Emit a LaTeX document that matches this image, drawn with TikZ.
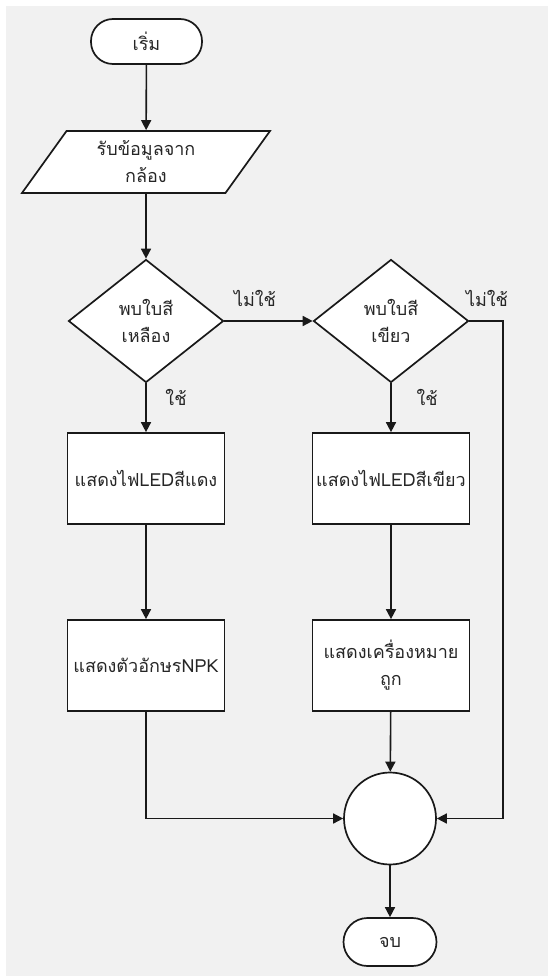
\documentclass[tikz,border=0pt]{standalone}
\usepackage{fontspec}
\newfontfamily\thaifont[Script=Thai]{Loma}
\usetikzlibrary{shapes.geometric,arrows.meta}

\begin{document}
\begin{tikzpicture}[
    x=1pt,
    y=-1pt,
    base/.style={draw=black!90, line width=1.7pt, fill=white, inner sep=2pt,
        text=black!85, align=center, font=\thaifont\fontsize{18}{27}\selectfont},
    terminal/.style={base, rectangle, rounded corners=22pt,
        minimum width=111pt, minimum height=45pt},
    inout/.style={base, trapezium, trapezium left angle=46, trapezium right angle=134,
        trapezium stretches body, minimum width=248pt, minimum height=62pt},
    decision/.style={base, diamond, inner sep=0pt,
        minimum width=155pt, minimum height=123pt},
    process/.style={base, rectangle, minimum width=157pt, minimum height=91pt},
    junction/.style={base, circle, minimum size=92pt},
    flow/.style={black!90, line width=1.6pt, -{Triangle[length=10pt,width=10pt]}},
    answer/.style={text=black!85, font=\thaifont\fontsize{18}{22}\selectfont}
]

% -------------------------------------------------------------------------
% Canvas
% -------------------------------------------------------------------------
\useasboundingbox (0,0) rectangle (548,976);
\fill[ gray!11 ] (6,6) rectangle (548,976);

% -------------------------------------------------------------------------
% Left column
% -------------------------------------------------------------------------
\node[ terminal ] (start) at (146.5,41.5) {เริ่ม};
\node[ inout ] (camera) at (146,162) {รับข้อมูลจาก\\กล้อง};
\node[ decision ] (ask-yellow) at (146,321) {พบใบสี\\เหลือง};
\node[ process ] (led-red) at (146,478.5) {แสดงไฟLEDสีแดง};
\node[ process ] (show-npk) at (146,665.5) {แสดงตัวอักษรNPK};

% -------------------------------------------------------------------------
% Right column
% -------------------------------------------------------------------------
\node[ decision ] (ask-green) at (391,321) {พบใบสี\\เขียว};
\node[ process ] (led-green) at (391,478.5) {แสดงไฟLEDสีเขียว};
\node[ process ] (show-mark) at (391,665.5) {แสดงเครื่องหมาย\\ถูก};
\node[ junction ] (merge) at (390,818.5) {};
\node[ terminal, minimum width=93pt, minimum height=48pt, rounded corners=24pt ]
    (stop) at (390,942) {จบ};

\coordinate (bypass) at (503,321);

% -------------------------------------------------------------------------
% Connectors
% -------------------------------------------------------------------------
\draw[ flow ] (start) -- (camera);
\draw[ flow ] (camera) -- (ask-yellow);
\draw[ flow ] (ask-yellow) -- (ask-green);
\draw[ flow ] (ask-yellow) -- (led-red);
\draw[ flow ] (ask-green) -- (led-green);
\draw[ flow ] (led-red) -- (show-npk);
\draw[ flow ] (led-green) -- (show-mark);
\draw[ flow ] (show-npk) |- (merge);
\draw[ flow ] (show-mark) -- (merge);
\draw[ flow ] (ask-green.east) -- (bypass) |- (merge);
\draw[ flow ] (merge) -- (stop);

% -------------------------------------------------------------------------
% Answers
% -------------------------------------------------------------------------
\node[ answer ] (no-yellow) at (255,298) {ไม่ใช้};
\node[ answer ] (no-green) at (487,298) {ไม่ใช้};
\node[ answer ] (yes-yellow) at (176,397) {ใช้};
\node[ answer ] (yes-green) at (427,397) {ใช้};

\end{tikzpicture}
\end{document}
